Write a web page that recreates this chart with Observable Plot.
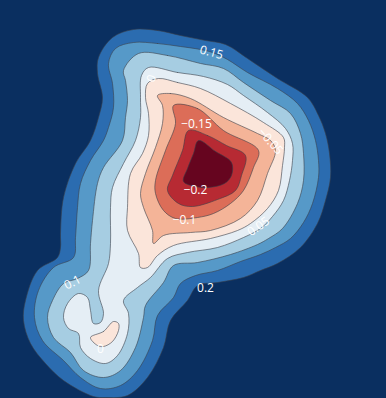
<!DOCTYPE html>
<html>
<head>
<meta charset="utf-8">
<style>html,body{margin:0;padding:0;background:#0a2f60;overflow:hidden}</style>
<script src="https://cdn.jsdelivr.net/npm/d3@7"></script>
<script src="https://cdn.jsdelivr.net/npm/@observablehq/plot@0.6"></script>
</head>
<body>
<div id="chart"></div>
<script>
const levels = [0.2, 0.15, 0.1, 0.05, 0, -0.05, -0.1, -0.15, -0.2];
const fills = ["#2b6cb0", "#5699c8", "#a6cde2", "#e5eef5", "#fbe5da", "#f4b498", "#dc6d58", "#b72a33", "#66051f"];

const contour020 = [[133,29],[157,30],[180,35],[205,40],[225,44],[250,60],[277,78],[307,97],[318,115],[325,133],[329,153],[330,177],[325,200],[317,223],[300,247],[277,263],[260,270],[243,277],[217,282],[197,285],[187,300],[170,320],[163,347],[147,377],[127,395],[105,397],[93,396],[63,380],[45,363],[30,343],[23,320],[25,300],[37,270],[57,257],[60,247],[60,233],[63,197],[75,163],[90,140],[98,117],[102,97],[97,73],[98,57],[112,37]];
const contour015 = [[133,42],[157,43],[180,46],[200,49],[212,52],[227,59],[247,72],[277,88],[297,103],[308,120],[315,140],[318,160],[318,177],[312,203],[303,222],[290,238],[275,247],[260,254],[240,261],[217,270],[195,275],[180,283],[173,297],[157,315],[152,340],[137,370],[120,385],[100,388],[80,377],[63,360],[42,340],[34,317],[38,290],[53,267],[73,257],[75,237],[77,207],[80,183],[90,160],[103,140],[108,127],[113,107],[112,83],[108,63],[115,48]];
const contour010 = [[138,53],[167,55],[200,63],[223,68],[243,82],[270,100],[290,113],[300,133],[303,153],[303,180],[297,203],[282,228],[268,238],[257,244],[230,254],[197,262],[173,265],[163,282],[145,305],[143,317],[135,347],[120,370],[103,377],[83,370],[70,352],[53,337],[47,317],[52,300],[63,283],[77,278],[88,270],[90,243],[92,220],[97,183],[103,167],[122,140],[125,117],[127,100],[125,80],[123,70]];
const contour005 = [[148,67],[177,72],[203,76],[227,84],[243,95],[267,112],[285,128],[292,143],[292,160],[289,180],[283,200],[272,216],[260,228],[243,237],[217,247],[187,252],[167,258],[150,277],[137,287],[123,300],[128,313],[127,333],[117,355],[105,363],[90,358],[80,347],[78,333],[68,328],[63,317],[67,303],[78,293],[87,297],[90,310],[93,323],[100,322],[103,313],[98,290],[108,263],[110,243],[110,207],[112,187],[123,163],[135,140],[140,117],[140,97],[141,75]];
const contour000 = [[158,78],[177,82],[200,88],[230,103],[263,122],[283,137],[284,147],[282,165],[278,190],[267,208],[250,223],[237,230],[210,238],[173,245],[157,255],[147,267],[140,267],[138,253],[127,230],[127,207],[130,173],[142,153],[148,135],[148,113],[145,97],[147,83]];
const contour000island = [[90,337],[103,331],[113,321],[118,323],[118,330],[112,341],[103,346],[97,345]];
const contourM005 = [[157,95],[170,93],[190,98],[223,117],[257,133],[270,140],[275,150],[267,173],[257,200],[240,218],[210,230],[190,232],[163,235],[153,243],[152,230],[143,207],[140,193],[145,173],[155,147],[162,123],[162,105]];
const contourM010 = [[173,105],[197,108],[223,130],[258,150],[253,167],[243,190],[230,203],[213,213],[197,217],[175,218],[163,210],[155,193],[155,180],[165,150],[175,123]];
const contourM015 = [[188,130],[207,135],[226,145],[245,155],[241,175],[235,190],[217,199],[192,206],[178,203],[167,190],[172,175],[182,150]];
const contourM020 = [[198,140],[215,151],[231,162],[231,175],[224,183],[208,187],[195,186],[183,181],[187,168],[193,153]];

const rings = [
  {id: "0.2", level: 0.2, points: contour020},
  {id: "0.15", level: 0.15, points: contour015},
  {id: "0.1", level: 0.1, points: contour010},
  {id: "0.05", level: 0.05, points: contour005},
  {id: "0", level: 0, points: contour000},
  {id: "0b", level: 0, points: contour000island},
  {id: "-0.05", level: -0.05, points: contourM005},
  {id: "-0.1", level: -0.1, points: contourM010},
  {id: "-0.15", level: -0.15, points: contourM015},
  {id: "-0.2", level: -0.2, points: contourM020}
];
const rows = rings.flatMap(r => r.points.map(([x, y]) => ({x, y, id: r.id, level: r.level})));

const labelTexts = ["0.15", "0", "\u22120.15", "\u22120.05", "\u22120.2", "\u22120.1", "0.05", "0.1", "0.2", "0"];
const labelX = [211, 151, 196, 270, 195, 184, 258, 72, 205, 100];
const labelY = [52, 78, 124, 141, 190, 220, 226, 282, 288, 349];
const labelAngle = [15, -70, 0, 48, 0, 0, -35, -28, 0, 0];
const labels = labelTexts.map((text, i) => ({text, x: labelX[i], y: labelY[i], angle: labelAngle[i]}));

const plot = Plot.plot({
  width: 386,
  height: 398,
  margin: 0,
  style: {background: "#0a2f60", display: "block"},
  x: {domain: [0, 386], range: [0, 386], axis: null},
  y: {domain: [0, 398], range: [0, 398], axis: null},
  color: {type: "ordinal", domain: levels, range: fills},
  marks: [
    Plot.line(rows, {x: "x", y: "y", z: "id", fill: "level", stroke: "#3a3f48", strokeWidth: 0.7, strokeOpacity: 0.85, curve: "catmull-rom-closed"}),
    Plot.text(labels, {x: "x", y: "y", text: "text", rotate: "angle", fill: "white", fontSize: 12, fontFamily: "'Open Sans'"})
  ]
});
document.getElementById("chart").appendChild(plot);
</script>
</body>
</html>
